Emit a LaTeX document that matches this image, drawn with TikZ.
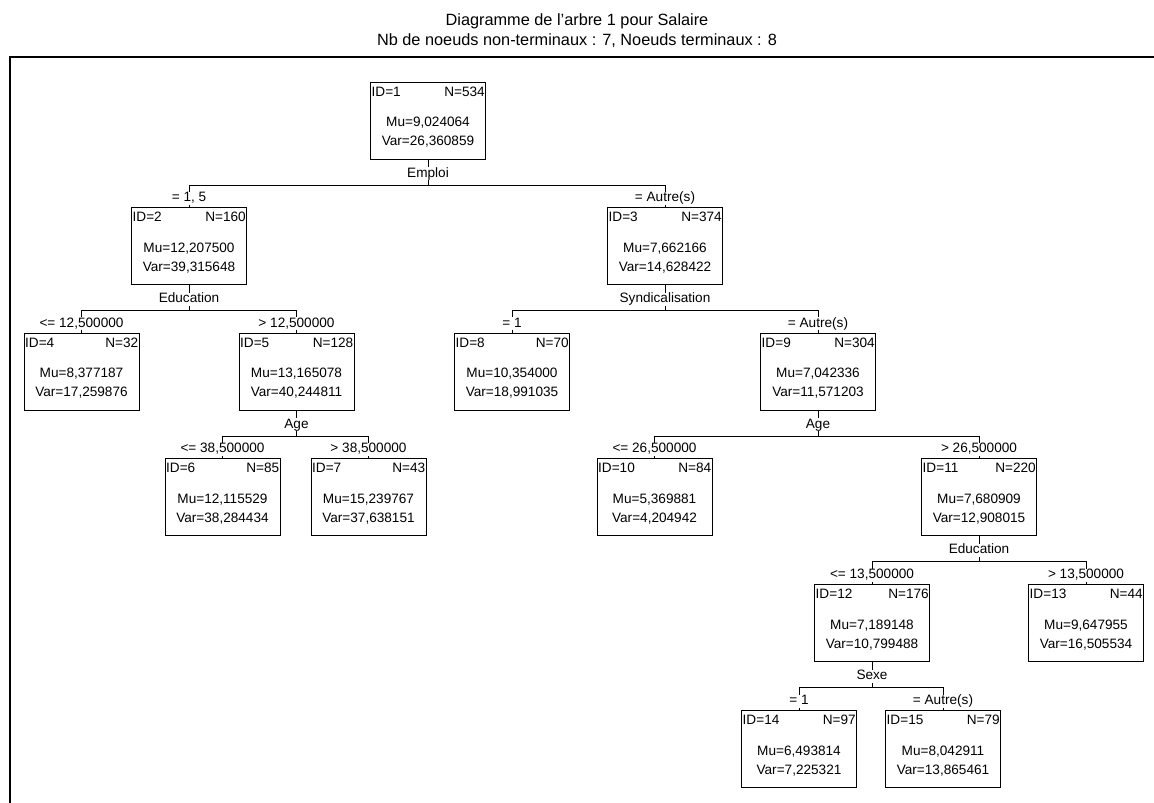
\documentclass[tikz,border=0pt]{standalone}
\usepackage{fontspec}
\setmainfont{Liberation Sans}
\usetikzlibrary{positioning}

\newcommand{\nodefont}{\fontsize{13.6}{19}\selectfont}

\begin{document}
\begin{tikzpicture}[
    x=1pt, y=-1pt,
    box/.style={rectangle, draw=black, line width=1pt, fill=white, minimum width=115pt, minimum height=77pt, inner sep=0pt},
    idtag/.style={anchor=north west, inner xsep=1.5pt, inner ysep=5pt, font=\nodefont},
    ntag/.style={anchor=north east, inner xsep=1pt, inner ysep=5pt, font=\nodefont},
    stats/.style={anchor=south, yshift=12pt, align=center, inner sep=0pt, font=\nodefont},
    leaf/.style n args={4}{box, label={[idtag]north west:ID=#1}, label={[ntag]north east:N=#2}, label={[stats]south:Mu=#3\\Var=#4}},
    splitvar/.style={fill=white, inner xsep=1pt, inner ysep=0pt, text height=10pt, text depth=3pt, font=\nodefont},
    branch/.style={fill=white, inner xsep=1pt, inner ysep=0pt, text height=10pt, text depth=3pt, font=\nodefont},
    edge/.style={draw=black, line width=0.9pt},
    frame/.style={draw=black, line width=1.5pt}
]
\useasboundingbox (0,0) rectangle (1154,803);

% Title and frame
\node[align=center, font=\fontsize{16.3}{20}\selectfont] (title) at (577,31) {Diagramme de l'arbre 1 pour Salaire\\Nb de noeuds non-terminaux : 7, Noeuds terminaux : 8};
\draw[frame] (10,803) |- (1154,57);

% Root
\node (n1) [leaf={1}{534}{9,024064}{26,360859}] at (428,120.5) {};

% Level 1
\node (n2) [leaf={2}{160}{12,207500}{39,315648}] at (189,246) {};
\node (n3) [leaf={3}{374}{7,662166}{14,628422}] at (665,246) {};

% Level 2
\node (n4) [leaf={4}{32}{8,377187}{17,259876}] at (81.5,371.5) {};
\node (n5) [leaf={5}{128}{13,165078}{40,244811}] at (296.5,371.5) {};
\node (n8) [leaf={8}{70}{10,354000}{18,991035}] at (512,371.5) {};
\node (n9) [leaf={9}{304}{7,042336}{11,571203}] at (818,371.5) {};

% Level 3
\node (n6) [leaf={6}{85}{12,115529}{38,284434}] at (222.5,497) {};
\node (n7) [leaf={7}{43}{15,239767}{37,638151}] at (368.5,497) {};
\node (n10) [leaf={10}{84}{5,369881}{4,204942}] at (654.5,497) {};
\node (n11) [leaf={11}{220}{7,680909}{12,908015}] at (979,497) {};

% Level 4
\node (n12) [leaf={12}{176}{7,189148}{10,799488}] at (872,623) {};
\node (n13) [leaf={13}{44}{9,647955}{16,505534}] at (1086,623) {};

% Level 5
\node (n14) [leaf={14}{97}{6,493814}{7,225321}] at (799,749) {};
\node (n15) [leaf={15}{79}{8,042911}{13,865461}] at (943,749) {};

% Connectors
\draw[edge] (n1.south) -- ++(0,25.5) -| (n2.north);
\draw[edge] (n1.south) -- ++(0,25.5) -| (n3.north);
\draw[edge] (n2.south) -- ++(0,25.5) -| (n4.north);
\draw[edge] (n2.south) -- ++(0,25.5) -| (n5.north);
\draw[edge] (n3.south) -- ++(0,25.5) -| (n8.north);
\draw[edge] (n3.south) -- ++(0,25.5) -| (n9.north);
\draw[edge] (n5.south) -- ++(0,25.5) -| (n6.north);
\draw[edge] (n5.south) -- ++(0,25.5) -| (n7.north);
\draw[edge] (n9.south) -- ++(0,25.5) -| (n10.north);
\draw[edge] (n9.south) -- ++(0,25.5) -| (n11.north);
\draw[edge] (n11.south) -- ++(0,25.5) -| (n12.north);
\draw[edge] (n11.south) -- ++(0,25.5) -| (n13.north);
\draw[edge] (n12.south) -- ++(0,25.5) -| (n14.north);
\draw[edge] (n12.south) -- ++(0,25.5) -| (n15.north);

% Split variables
\node[splitvar] (v1) at ([yshift=-14pt]n1.south) {Emploi};
\node[splitvar] (v2) at ([yshift=-14pt]n2.south) {Education};
\node[splitvar] (v3) at ([yshift=-14pt]n3.south) {Syndicalisation};
\node[splitvar] (v5) at ([yshift=-14pt]n5.south) {Age};
\node[splitvar] (v9) at ([yshift=-14pt]n9.south) {Age};
\node[splitvar] (v11) at ([yshift=-14pt]n11.south) {Education};
\node[splitvar] (v12) at ([yshift=-14pt]n12.south) {Sexe};

% Branch conditions
\node[branch] (c2) at ([yshift=9pt]n2.north) {= 1, 5};
\node[branch] (c3) at ([yshift=9pt]n3.north) {= Autre(s)};
\node[branch] (c4) at ([yshift=9pt]n4.north) {<= 12,500000};
\node[branch] (c5) at ([yshift=9pt]n5.north) {> 12,500000};
\node[branch] (c8) at ([yshift=9pt]n8.north) {= 1};
\node[branch] (c9) at ([yshift=9pt]n9.north) {= Autre(s)};
\node[branch] (c6) at ([yshift=9pt]n6.north) {<= 38,500000};
\node[branch] (c7) at ([yshift=9pt]n7.north) {> 38,500000};
\node[branch] (c10) at ([yshift=9pt]n10.north) {<= 26,500000};
\node[branch] (c11) at ([yshift=9pt]n11.north) {> 26,500000};
\node[branch] (c12) at ([yshift=9pt]n12.north) {<= 13,500000};
\node[branch] (c13) at ([yshift=9pt]n13.north) {> 13,500000};
\node[branch] (c14) at ([yshift=9pt]n14.north) {= 1};
\node[branch] (c15) at ([yshift=9pt]n15.north) {= Autre(s)};

\end{tikzpicture}
\end{document}
